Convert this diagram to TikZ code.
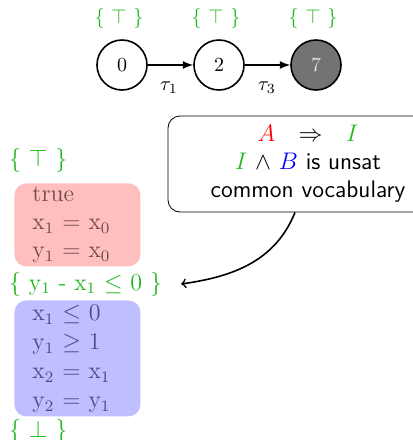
\documentclass[tikz,border=0pt]{standalone}
\usepackage{amsmath,amssymb}
\usepackage{xcolor}
\usetikzlibrary{arrows}
\definecolor{invgreen}{RGB}{30,185,30}
\definecolor{redtext}{RGB}{115,75,75}
\definecolor{bluetext}{RGB}{75,75,125}
\tikzset{
  state/.style={circle,draw,thick,minimum size=25pt,inner sep=0pt},
  inv/.style={text=invgreen},
  stepblock/.style={rounded corners=6pt,anchor=north west,minimum width=63pt,
    text width=45pt,inner xsep=9pt,inner ysep=0.5pt,align=left,font=\large},
  note/.style={draw,rounded corners=6pt,minimum width=140pt,minimum height=48pt,
    align=center,font=\large\sffamily}
}
\begin{document}
\begin{tikzpicture}[x=0.5pt,y=-0.5pt]
\useasboundingbox (0,0) rectangle (413,440);
% path of the trace
\node[state] (s0) at (122,65) {0};
\node[state] (s2) at (219,65) {2};
\node[state,fill=black!55,text=black!12] (s7) at (316,65) {7};
\node[inv] (i0) at (119,18) {$\{\ \top\ \}$};
\node[inv] (i2) at (216,18) {$\{\ \top\ \}$};
\node[inv] (i7) at (313,18) {$\{\ \top\ \}$};
\node (t1) at (169,88) {$\tau_1$};
\node (t3) at (267,88) {$\tau_3$};
\draw[-latex,thick] (s0) to (s2);
\draw[-latex,thick] (s2) to (s7);
% interpolation
\node[inv,anchor=west,font=\large] (pre) at (2,160) {$\{\ \top\ \}$};
\node[stepblock,fill=red!25,text=redtext,minimum height=41.5pt] (A) at (14,183)
  {true\\ x$_1$ $=$ x$_0$\\ y$_1$ $=$ x$_0$};
\node[inv,anchor=west,font=\large] (post) at (2,284)
  {\{ y$_1$ - x$_1$ $\leq$ 0 \}};
\node[stepblock,fill=blue!25,text=bluetext,minimum height=58pt] (B) at (14,300)
  {x$_1$ $\leq$ 0\\[0.5pt] y$_1$ $\geq$ 1\\[0.5pt] x$_2$ $=$ x$_1$\\[0.5pt] y$_2$ $=$ y$_1$};
\node[inv,anchor=west,font=\large,inner ysep=0pt] (bot) at (2,431) {$\{\ \bot\ \}$};
\node[note] (why) at (308,164)
  {$\color{red}A$ \ \ $\Rightarrow$ \ \ $\color{invgreen}I$\\
   $\color{invgreen}I$ $\wedge$ $\color{blue}B$ is unsat\\
   common vocabulary};
\draw[->,thick] ([xshift=-6.5pt]why.south) to[out=-112,in=8] ([xshift=6pt]post.east);
\end{tikzpicture}
\end{document}
